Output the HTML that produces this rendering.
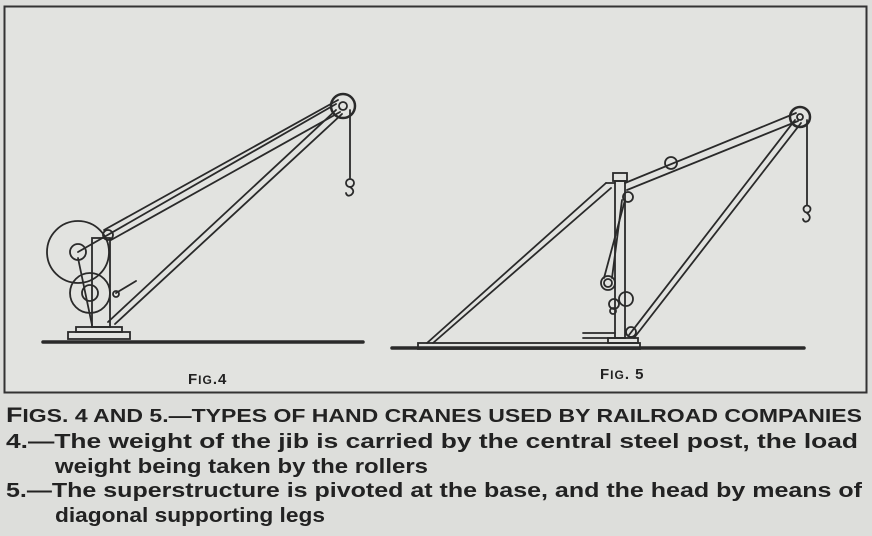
<!DOCTYPE html>
<html><head><meta charset="utf-8"><style>
html,body{margin:0;padding:0;background:#dddedb;}
svg{display:block}
text{font-family:"Liberation Sans",sans-serif;fill:#222;}
</style></head><body>
<svg width="872" height="536" viewBox="0 0 872 536" xmlns="http://www.w3.org/2000/svg">
<rect x="0" y="0" width="872" height="536" fill="#dddedb"/>
<rect x="4.5" y="6.5" width="862" height="386" fill="#e2e3e0" stroke="#333" stroke-width="2"/>
<g stroke="#2a2a2a" fill="none" stroke-width="1.8" stroke-linecap="round">
<!-- FIG 4 -->
<line x1="43" y1="342" x2="363" y2="342" stroke-width="3.5"/>
<rect x="68" y="332" width="62" height="7"/>
<rect x="76" y="327" width="46" height="5"/>
<rect x="92" y="238" width="18" height="89"/>
<circle cx="78" cy="252" r="31"/>
<circle cx="78" cy="252" r="8"/>
<circle cx="90" cy="293" r="20"/>
<circle cx="90" cy="293" r="8"/>
<circle cx="108" cy="235" r="5"/>
<line x1="104" y1="230" x2="338" y2="100"/>
<line x1="111" y1="240" x2="340" y2="112"/>
<line x1="108" y1="322" x2="336" y2="110"/>
<line x1="115" y1="324" x2="342" y2="114"/>
<line x1="78" y1="252" x2="336" y2="104"/>
<circle cx="343" cy="106" r="12" stroke-width="2.5"/>
<circle cx="343" cy="106" r="4"/>
<line x1="350" y1="110" x2="350" y2="178"/>
<circle cx="350" cy="183" r="4"/>
<path d="M350 187 q6 4 1 8 q-4 2 -5 -2"/>
<line x1="116" y1="293" x2="136" y2="281"/>
<circle cx="116" cy="294" r="3"/>
<line x1="78" y1="258" x2="92" y2="325"/>
<!-- FIG 5 -->
<line x1="392" y1="348" x2="804" y2="348" stroke-width="3.5"/>
<rect x="418" y="343" width="222" height="6"/>
<rect x="608" y="338" width="30" height="5"/>
<line x1="427" y1="343" x2="606" y2="183"/>
<line x1="433" y1="343" x2="611" y2="188"/>
<line x1="606" y1="183" x2="615" y2="183"/>
<rect x="615" y="181" width="10" height="157"/>
<rect x="613" y="173" width="14" height="8"/>
<line x1="583" y1="333" x2="615" y2="333"/>
<line x1="583" y1="338" x2="615" y2="338"/>
<line x1="625" y1="183" x2="796" y2="113"/>
<line x1="627" y1="190" x2="798" y2="121"/>
<circle cx="671" cy="163" r="6"/>
<circle cx="628" cy="197" r="5"/>
<line x1="629" y1="335" x2="795" y2="120"/>
<line x1="634" y1="338" x2="801" y2="123"/>
<circle cx="631" cy="332" r="5"/>
<circle cx="800" cy="117" r="10" stroke-width="2.5"/>
<circle cx="800" cy="117" r="3"/>
<line x1="807" y1="120" x2="807" y2="205"/>
<circle cx="807" cy="209" r="3.5"/>
<path d="M807 213 q5 4 1 8 q-4 2 -5 -2"/>
<line x1="625" y1="200" x2="604" y2="278"/>
<line x1="622" y1="200" x2="612" y2="278"/>
<circle cx="608" cy="283" r="7"/>
<circle cx="608" cy="283" r="4"/>
<circle cx="626" cy="299" r="7"/>
<circle cx="614" cy="304" r="5"/>
<circle cx="613" cy="311" r="3"/>
</g>
<text x="188" y="384" font-size="15" font-weight="bold" letter-spacing="1">F<tspan font-size="12">IG</tspan>.4</text>
<text x="600" y="379" font-size="15" font-weight="bold" letter-spacing="1">F<tspan font-size="12">IG</tspan>. 5</text>
<g font-size="20" font-weight="bold">
<text x="6" y="422" textLength="856" lengthAdjust="spacingAndGlyphs" font-size="21">F<tspan font-size="18">IGS. 4 AND 5.—TYPES OF HAND CRANES USED BY RAILROAD COMPANIES</tspan></text>
<text x="6" y="448" textLength="852" lengthAdjust="spacingAndGlyphs">4.—The weight of the jib is carried by the central steel post, the load</text>
<text x="55" y="473" textLength="373" lengthAdjust="spacingAndGlyphs">weight being taken by the rollers</text>
<text x="6" y="497" textLength="856" lengthAdjust="spacingAndGlyphs">5.—The superstructure is pivoted at the base, and the head by means of</text>
<text x="55" y="522" textLength="270" lengthAdjust="spacingAndGlyphs">diagonal supporting legs</text>
</g>
</svg>
</body></html>
